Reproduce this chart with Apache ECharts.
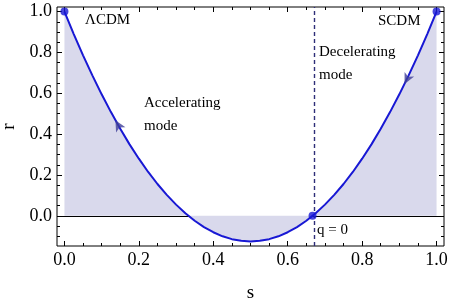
<!DOCTYPE html>
<html><head><meta charset="utf-8">
<script src="https://cdn.jsdelivr.net/npm/echarts@6/dist/echarts.min.js"></script>
<style>html,body{margin:0;padding:0;background:#fff}#c{width:450px;height:300px}</style>
</head><body><div id="c"></div>
<script>
// curve r(s)
const sValues = [0,0.025,0.05,0.075,0.1,0.125,0.15,0.175,0.2,0.225,0.25,0.275,0.3,0.325,0.35,0.375,0.4,0.425,0.45,0.475,0.5,
  0.525,0.55,0.575,0.6,0.625,0.65,0.675,0.7,0.725,0.75,0.775,0.8,0.825,0.85,0.875,0.9,0.925,0.95,0.975,1];
const rValues = [1,0.890,0.786,0.688,0.595,0.508,0.426,0.350,0.280,0.215,0.156,0.103,0.055,0.013,-0.024,-0.055,-0.080,-0.100,-0.114,-0.122,-0.125,
  -0.122,-0.114,-0.100,-0.080,-0.055,-0.024,0.013,0.055,0.103,0.156,0.215,0.280,0.350,0.426,0.508,0.595,0.688,0.786,0.890,1];
// marked points
const dotS = [0, 1, 0.6667];
const dotR = [1, 1, 0];
// direction arrows
const arrowS = [0.137, 0.914];
const arrowR = [0.468, 0.645];
const arrowAngle = [29, 154];
// ticks
const majorX = [0,0.2,0.4,0.6,0.8,1.0];
const minorX = [0.05,0.1,0.15,0.25,0.3,0.35,0.45,0.5,0.55,0.65,0.7,0.75,0.85,0.9,0.95];
const majorY = [0,0.2,0.4,0.6,0.8,1.0];
const minorY = [-0.1,-0.05,0.05,0.1,0.15,0.25,0.3,0.35,0.45,0.5,0.55,0.65,0.7,0.75,0.85,0.9,0.95];
const qZeroS = 0.6667;

const serif = '"Liberation Serif","Times New Roman",serif';
const chart = echarts.init(document.getElementById('c'), null, {renderer:'canvas'});
const box = {left:57, top:7, right:6, bottom:54, containLabel:false, outerBoundsMode:'none'};
const XMIN=-0.02, XMAX=1.02, YMIN=-0.1475, YMAX=1.0225;

function xAx(grid, pos, ticks, len, labels, name){
  const a = {type:'value', gridIndex:grid, position:pos, min:XMIN, max:XMAX,
    axisLine:{show:false, onZero:false}, splitLine:{show:false},
    axisTick:{show:true, inside:true, length:len, customValues:ticks, lineStyle:{color:'#000',width:1}},
    axisLabel:{show:!!labels, customValues:ticks, margin:5, color:'#000', fontFamily:serif, fontSize:18,
      formatter:v=>v.toFixed(1)}};
  if(name){ Object.assign(a,{name:name, nameLocation:'middle', nameGap:38, nameTextStyle:{fontFamily:serif,fontSize:19,color:'#000'}}); }
  return a;
}
function yAx(grid, pos, ticks, len, labels, name){
  const a = {type:'value', gridIndex:grid, position:pos, min:YMIN, max:YMAX,
    axisLine:{show:false, onZero:false}, splitLine:{show:false},
    axisTick:{show:true, inside:true, length:len, customValues:ticks, lineStyle:{color:'#000',width:1}},
    axisLabel:{show:!!labels, customValues:ticks, margin:5, color:'#000', fontFamily:serif, fontSize:18,
      formatter:v=>v.toFixed(1)}};
  if(name){ Object.assign(a,{name:name, nameLocation:'middle', nameGap:37, nameRotate:90, nameTextStyle:{fontFamily:serif,fontSize:19,color:'#000'}}); }
  return a;
}

const curve = sValues.map((s,i)=>[s, rValues[i]]);
const dots = dotS.map((s,i)=>[s, dotR[i]]);
const arrows = arrowS.map((s,i)=>({value:[s, arrowR[i]], symbolRotate:arrowAngle[i]}));

const txt = (t,x,y)=>({type:'text', x:x, y:y, z:100, style:{text:t, font:'15px '+serif, fill:'#000', verticalAlign:'middle'}});

chart.setOption({
  animation:false,
  grid:[Object.assign({show:true, borderColor:'#000', borderWidth:1, backgroundColor:'transparent'}, box),
        Object.assign({show:false}, box)],
  xAxis:[xAx(0,'bottom',majorX,5,true,'s'), xAx(0,'top',majorX,5,false), xAx(1,'bottom',minorX,3,false), xAx(1,'top',minorX,3,false)],
  yAxis:[yAx(0,'left',majorY,5,true,'r'), yAx(0,'right',majorY,5,false), yAx(1,'left',minorY,3,false), yAx(1,'right',minorY,3,false)],
  series:[
    {type:'line', xAxisIndex:0, yAxisIndex:0, data:curve, showSymbol:false, smooth:false, z:3,
      lineStyle:{color:'#1818d4', width:2}, areaStyle:{color:'#d9d9ec', opacity:1},
      markLine:{silent:true, symbol:'none', label:{show:false}, z:2,
        data:[{yAxis:0, lineStyle:{color:'#000', width:1, type:'solid'}},
              {xAxis:qZeroS, lineStyle:{color:'#2e2e78', width:1.4, type:[4,3]}}]}},
    {type:'scatter', xAxisIndex:0, yAxisIndex:0, data:dots, symbol:'circle', symbolSize:8, z:5,
      itemStyle:{color:'#1818d4'}},
    {type:'scatter', xAxisIndex:0, yAxisIndex:0, data:arrows, symbol:'arrow', symbolSize:[8,11], z:6,
      itemStyle:{color:'#3e3e98'}}
  ],
  graphic:[
    txt('ΛCDM',85,20), txt('SCDM',378,21),
    txt('Decelerating',319,52), txt('mode',319,75),
    txt('Accelerating',144,103), txt('mode',144,126),
    txt('q = 0',317,230)
  ]
});
</script></body></html>
